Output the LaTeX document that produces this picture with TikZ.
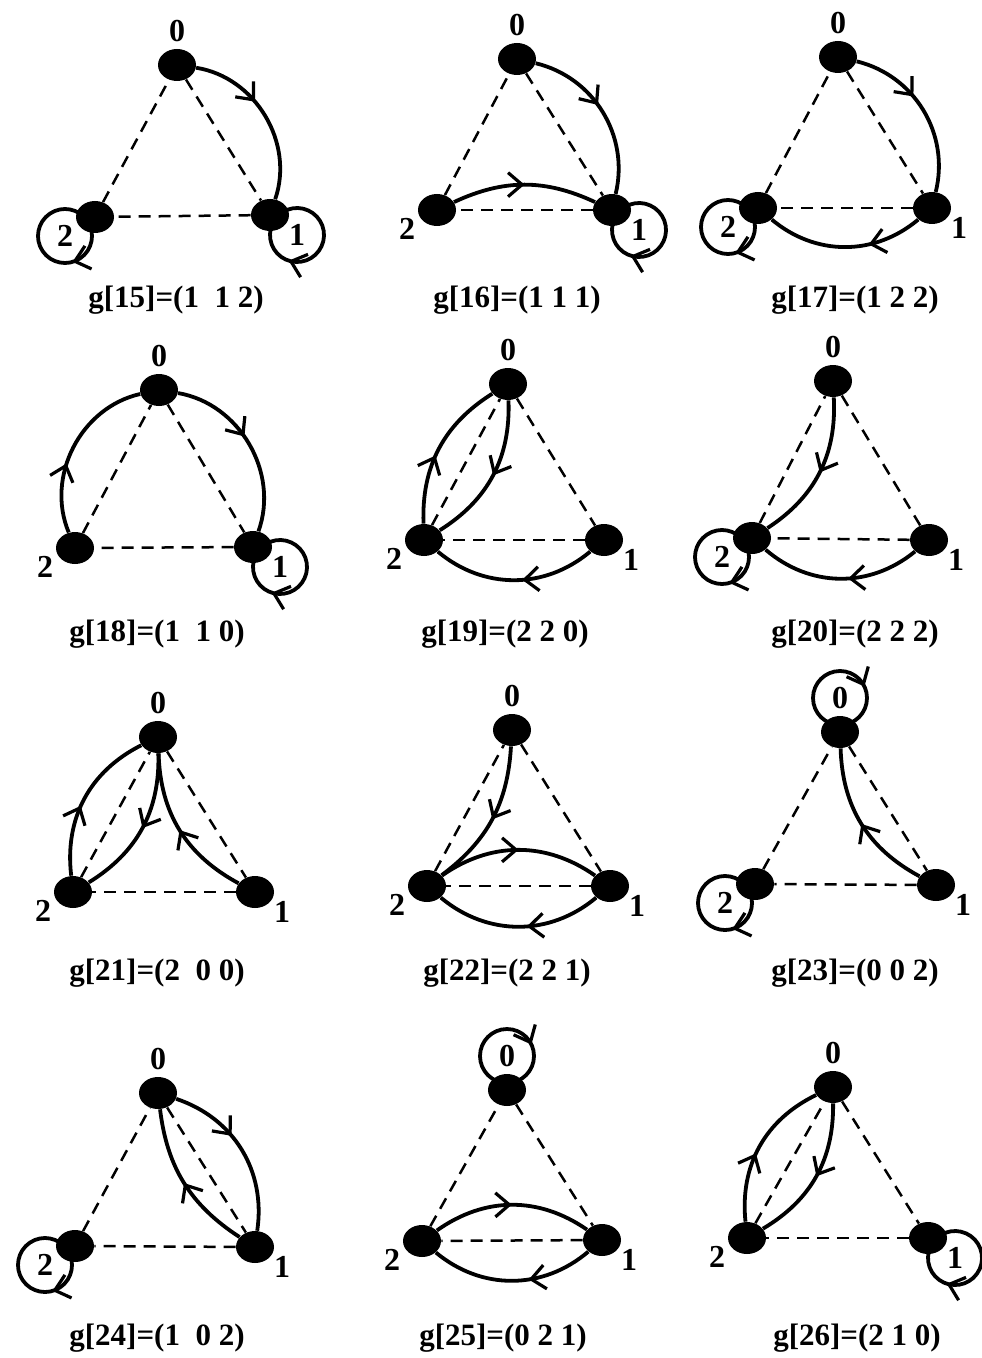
\documentclass[tikz,border=0pt]{standalone}
\usepackage{fontspec}
\setmainfont{Liberation Serif}
\usetikzlibrary{shapes.geometric,arrows.meta,decorations.markings}
\tikzset{
 vtx/.style={ellipse,fill=black,minimum width=19pt,minimum height=16pt,inner sep=0pt},
 lab/.style={font=\fontsize{16}{18}\selectfont\bfseries,inner sep=0pt},
 captxt/.style={font=\fontsize{15.5}{18}\selectfont\bfseries,inner sep=0pt},
 dashedge/.style={dash pattern=on 6pt off 4pt,line width=1.25pt},
 fedge/.style={line width=1.9pt,postaction={decorate},decoration={markings,mark=at position #1 with {\arrow{Straight Barb[length=7pt,width=12pt,line width=1.6pt]}}}},
 fedge/.default=0.5,
}
\newcommand\panel[7]{%
 \node[vtx] (#1n0) at (#2,-#3) {};
 \node[vtx] (#1n1) at (#4,-#5) {};
 \node[vtx] (#1n2) at (#6,-#7) {};
 \node[lab] (#1l0) at (#2,-#3+34) {0};
 \node[lab] (#1l1) at (#4+27,-#5-20) {1};
 \node[lab] (#1l2) at (#6-30,-#7-19) {2};
 \draw[dashedge] (#1n0) -- (#1n1);
 \draw[dashedge] (#1n1) -- (#1n2);
 \draw[dashedge] (#1n2) -- (#1n0);
}
\newcommand\fe[4]{\draw[fedge=#4] (#1) to[bend left=#3] (#2);}
\newcommand\lpa[1]{\draw[fedge=0.7] ([shift={(144:13.5pt)}]#1l1.center) arc[start angle=144,end angle=-216,radius=13.5pt];}
\newcommand\lpb[1]{\draw[fedge=0.3] ([shift={(34:13.5pt)}]#1l2.center) arc[start angle=34,end angle=-326,radius=13.5pt];}
\newcommand\lpz[1]{\draw[fedge=0.68] ([shift={(-90:13.5pt)}]#1l0.center) arc[start angle=-90,end angle=-450,radius=13.5pt];}
\begin{document}
\begin{tikzpicture}[x=0.5pt,y=0.5pt]
\useasboundingbox[fill=white] (0,0) rectangle (981,-1358);
% row 1
\panel{a}{177}{65}{270}{215}{95}{217}
\fe{an0}{an1}{50}{0.4}
\lpa{a}\lpb{a}
\node[captxt] (ca) at (176,-300) {g[15]=(1\ \ 1 2)};
\panel{b}{517}{59}{612}{210}{437}{210}
\fe{bn0}{bn1}{45}{0.45}
\fe{bn2}{bn1}{25}{0.5}
\lpa{b}
\node[captxt] (cb) at (517,-300) {g[16]=(1 1 1)};
\panel{c}{838}{57}{932}{208}{758}{208}
\fe{cn0}{cn1}{45}{0.4}
\fe{cn1}{cn2}{40}{0.35}
\lpb{c}
\node[captxt] (cc) at (855,-300) {g[17]=(1 2 2)};
% row 2
\panel{d}{159}{390}{253}{547}{75}{548}
\fe{dn0}{dn1}{50}{0.45}
\fe{dn2}{dn0}{50}{0.4}
\lpa{d}
\node[captxt] (cd) at (157,-634) {g[18]=(1\ \ 1 0)};
\panel{e}{508}{384}{604}{540}{424}{540}
\fe{en2}{en0}{30}{0.45}
\fe{en0}{en2}{30}{0.5}
\fe{en1}{en2}{40}{0.45}
\node[captxt] (ce) at (505,-634) {g[19]=(2 2 0)};
\panel{f}{833}{381}{929}{540}{752}{538}
\fe{fn0}{fn2}{30}{0.5}
\fe{fn1}{fn2}{40}{0.45}
\lpb{f}
\node[captxt] (cf) at (855,-634) {g[20]=(2 2 2)};
% row 3
\panel{g}{158}{737}{255}{892}{73}{892}
\fe{gn0}{gn2}{30}{0.5}
\fe{gn2}{gn0}{35}{0.45}
\fe{gn1}{gn0}{30}{0.5}
\node[captxt] (cg) at (157,-973) {g[21]=(2\ \ 0 0)};
\panel{h}{512}{730}{610}{886}{427}{886}
\fe{hn0}{hn2}{25}{0.5}
\fe{hn2}{hn1}{35}{0.5}
\fe{hn1}{hn2}{40}{0.45}
\node[captxt] (ch) at (507,-973) {g[22]=(2 2 1)};
\panel{i}{840}{732}{936}{885}{755}{884}
\fe{in1}{in0}{30}{0.5}
\lpz{i}\lpb{i}
\node[captxt] (ci) at (855,-973) {g[23]=(0 0 2)};
% row 4
\panel{j}{158}{1093}{255}{1247}{75}{1246}
\fe{jn0}{jn1}{40}{0.4}
\fe{jn1}{jn0}{25}{0.5}
\lpb{j}
\node[captxt] (cj) at (157,-1338) {g[24]=(1\ \ 0 2)};
\panel{k}{507}{1090}{602}{1240}{422}{1241}
\fe{kn2}{kn1}{35}{0.5}
\fe{kn1}{kn2}{40}{0.4}
\lpz{k}
\node[captxt] (ck) at (503,-1338) {g[25]=(0 2 1)};
\panel{l}{833}{1087}{928}{1238}{747}{1238}
\fe{ln0}{ln2}{30}{0.5}
\fe{ln2}{ln0}{35}{0.45}
\lpa{l}
\node[captxt] (cl) at (857,-1338) {g[26]=(2 1 0)};
\end{tikzpicture}
\end{document}
